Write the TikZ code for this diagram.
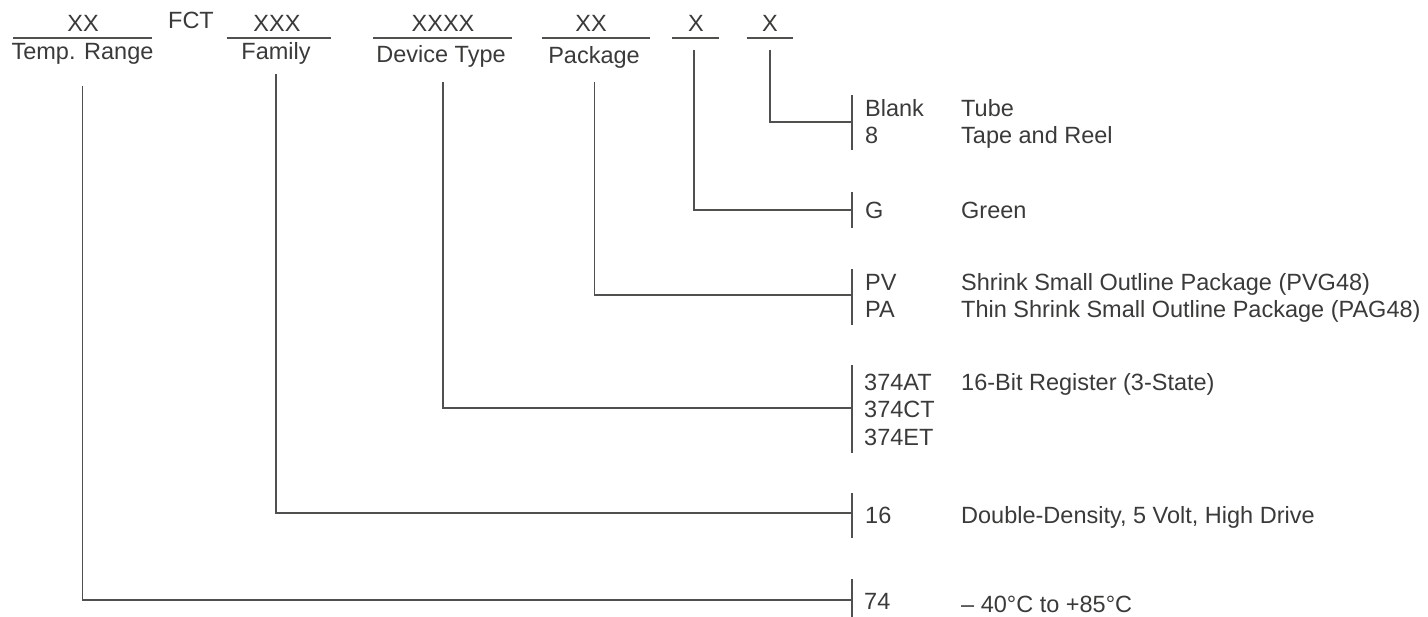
\documentclass[tikz,border=0pt]{standalone}
\usepackage{fontspec}
\setmainfont{Liberation Sans}
\definecolor{textc}{RGB}{58,58,56}
\definecolor{linec}{RGB}{80,80,78}
\begin{document}
\begin{tikzpicture}[x=1pt,y=-1pt,
  lbl/.style={inner sep=0pt,anchor=base,text=textc,font=\fontsize{23.5}{28}\selectfont},
  lblw/.style={lbl,anchor=base west},
  ln/.style={draw=linec,line width=1.4pt}]
\useasboundingbox (0,0) rectangle (1428,617);
% header row
\node[lbl] (xx) at (83,32) {XX};
\node[lbl] (fct) at (191,28.5) {FCT};
\node[lbl] (xxx) at (277,32) {XXX};
\node[lbl] (xxxx) at (443,32) {XXXX};
\node[lbl] (xxp) at (591,32) {XX};
\node[lbl] (xg) at (696,32) {X};
\node[lbl] (xt) at (770,32) {X};
\draw[ln] (13,38) -- (152,38);
\draw[ln] (227,38) -- (331,38);
\draw[ln] (373,38) -- (512,38);
\draw[ln] (542,38) -- (650,38);
\draw[ln] (672,38) -- (719,38);
\draw[ln] (747,38) -- (793,38);
\node[lbl] (temp) at (82.5,60) {Temp. Range};
\node[lbl] (fam) at (276,60) {Family};
\node[lbl] (dev) at (441,63) {Device Type};
\node[lbl] (pkg) at (594,64) {Package};
% line start points
\coordinate (tempS) at (82.5,86);
\coordinate (famS) at (276,74);
\coordinate (devS) at (443,82);
\coordinate (pkgS) at (594.5,82);
\coordinate (xgS) at (694,50);
\coordinate (xtS) at (770,50);
% bars
\coordinate (b1t) at (852,95);  \coordinate (b1b) at (852,150); \coordinate (b1m) at (852,122);
\coordinate (b2t) at (852,192); \coordinate (b2b) at (852,228); \coordinate (b2m) at (852,210);
\coordinate (b3t) at (852,269); \coordinate (b3b) at (852,325); \coordinate (b3m) at (852,295);
\coordinate (b4t) at (852,365); \coordinate (b4b) at (852,453); \coordinate (b4m) at (852,408);
\coordinate (b5t) at (852,493); \coordinate (b5b) at (852,538); \coordinate (b5m) at (852,513);
\coordinate (b6t) at (852,579); \coordinate (b6b) at (852,617); \coordinate (b6m) at (852,600);
\foreach \i in {1,...,6} {\draw[ln] (b\i t) -- (b\i b);}
\draw[ln] (xtS) |- (b1m);
\draw[ln] (xgS) |- (b2m);
\draw[ln] (pkgS) |- (b3m);
\draw[ln] (devS) |- (b4m);
\draw[ln] (famS) |- (b5m);
\draw[ln] (tempS) |- (b6m);
% codes and descriptions
\node[lblw] (c1a) at (865,117) {Blank};
\node[lblw] (d1a) at (961,117) {Tube};
\node[lblw] (c1b) at (865,144) {8};
\node[lblw] (d1b) at (961,144) {Tape and Reel};
\node[lblw] (c2) at (865,219) {G};
\node[lblw] (d2) at (961,219) {Green};
\node[lblw] (c3a) at (865,291) {PV};
\node[lblw] (d3a) at (961,291) {Shrink Small Outline Package (PVG48)};
\node[lblw] (c3b) at (865,318) {PA};
\node[lblw] (d3b) at (961,318) {Thin Shrink Small Outline Package (PAG48)};
\node[lblw] (c4a) at (864,391) {374AT};
\node[lblw] (d4) at (961,391) {16-Bit Register (3-State)};
\node[lblw] (c4b) at (864,418) {374CT};
\node[lblw] (c4c) at (864,446) {374ET};
\node[lblw] (c5) at (865,523) {16};
\node[lblw] (d5) at (961,523) {Double-Density, 5 Volt, High Drive};
\node[lblw] (c6) at (864,609) {74};
\node[lblw] (d6) at (961,612) {– 40°C to +85°C};
\end{tikzpicture}
\end{document}
